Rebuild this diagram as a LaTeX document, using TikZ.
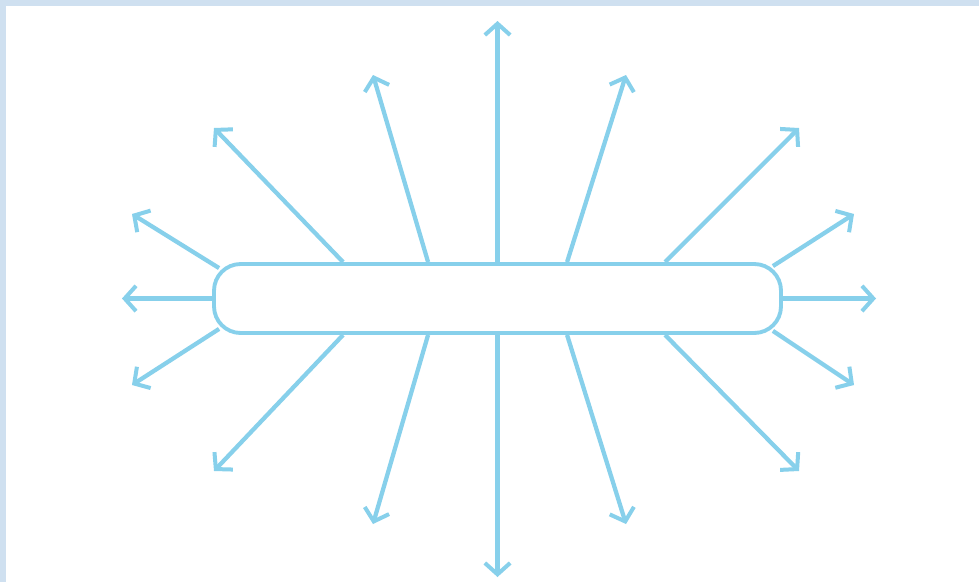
\documentclass[tikz,border=0pt]{standalone}
\usetikzlibrary{arrows.meta,calc}
\definecolor{ray}{RGB}{135,208,235}
\definecolor{frame}{RGB}{207,224,240}
\begin{document}
\begin{tikzpicture}[x=0.75pt,y=-0.75pt,
  rayline/.style={draw=ray,line width=3.2pt,-{Straight Barb[length=8.5pt,width=19pt,line width=3pt]}},
  barbox/.style={draw=ray,line width=2.9pt,rounded corners=20pt,minimum width=425.25pt,minimum height=51.75pt,inner sep=0pt}]
\useasboundingbox (0,0) rectangle (979,582);
\fill[white] (0,0) rectangle (979,582);
\fill[frame] (0,0) rectangle (979,6);
\fill[frame] (0,0) rectangle (6,582);
\node[barbox] (bar) at (497.5,298.5) {};
% tips
\coordinate (tU) at (497.5,21);
\coordinate (tD) at (497.5,577);
\coordinate (tL) at (122,298.5);
\coordinate (tR) at (876,298.5);
\coordinate (tUL1) at (132,214);
\coordinate (tUL2) at (214,128);
\coordinate (tUL3) at (373,75);
\coordinate (tUR3) at (626,75);
\coordinate (tUR2) at (799,128);
\coordinate (tUR1) at (854,214);
\coordinate (tDL1) at (132,385);
\coordinate (tDL2) at (214,471);
\coordinate (tDL3) at (373,524);
\coordinate (tDR3) at (626,524);
\coordinate (tDR2) at (799,471);
\coordinate (tDR1) at (854,385);
% start points on the bar
\coordinate (sUL1) at ($(bar.north west)+(7,6)$);
\coordinate (sUL2) at ($(bar.north west)+(131,0)$);
\coordinate (sUL3) at ($(bar.north west)+(216,0)$);
\coordinate (sUR3) at ($(bar.north west)+(355,0)$);
\coordinate (sUR2) at ($(bar.north west)+(453,0)$);
\coordinate (sUR1) at ($(bar.north east)+(-10,4)$);
\coordinate (sDL1) at ($(bar.south west)+(7,-6)$);
\coordinate (sDL2) at ($(bar.south west)+(131,0)$);
\coordinate (sDL3) at ($(bar.south west)+(216,0)$);
\coordinate (sDR3) at ($(bar.south west)+(355,0)$);
\coordinate (sDR2) at ($(bar.south west)+(453,0)$);
\coordinate (sDR1) at ($(bar.south east)+(-10,-4)$);
\draw[rayline] (bar.north) -- (tU);
\draw[rayline] (bar.south) -- (tD);
\draw[rayline] (bar.west) -- (tL);
\draw[rayline] (bar.east) -- (tR);
\foreach \n in {UL1,UL2,UL3,UR3,UR2,UR1,DL1,DL2,DL3,DR3,DR2,DR1}
  \draw[rayline] (s\n) -- (t\n);
\end{tikzpicture}
\end{document}
